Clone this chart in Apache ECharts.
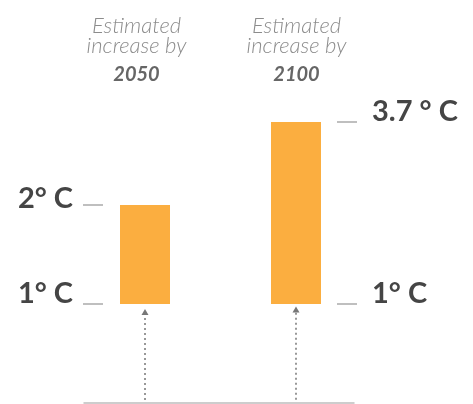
<!DOCTYPE html>
<html>
<head>
<meta charset="utf-8">
<script src="https://cdn.jsdelivr.net/npm/echarts@6.0.0/dist/echarts.min.js"></script>
<style>
html,body{margin:0;padding:0;background:#fff;}
#main{width:473px;height:404px;}
</style>
</head>
<body>
<div id="main"></div>
<script>
// ---- data ----
const categories = ['2050', '2100'];
const lowValues = [1, 1];
const highValues = [2, 3.7];
const leftTickLabels = {1: '1° C', 2: '2° C'};
const rightTickLabels = {1: '1° C', 3.7: '3.7 ° C'};

const chart = echarts.init(document.getElementById('main'), null, {renderer: 'canvas'});

const barColor = '#fbae40';
const arrowStyle = {color: '#777', width: 1.5, type: [2, 3]};

function only(i, v) {
  return categories.map((c, j) => (j === i ? v : '-'));
}

function makeStack(i, axisIdx, arrowFrom) {
  const low = lowValues[i], high = highValues[i];
  return [
    {
      type: 'bar', yAxisIndex: axisIdx, stack: 's' + i, barWidth: 50, barGap: '-100%',
      itemStyle: {color: 'transparent'}, silent: true,
      data: only(i, low)
    },
    {
      type: 'bar', yAxisIndex: axisIdx, stack: 's' + i, barWidth: 50, barGap: '-100%',
      itemStyle: {color: barColor},
      data: only(i, +(high - low).toFixed(3)),
      markLine: {
        silent: true,
        symbol: ['none', 'triangle'],
        symbolSize: [7, 6],
        lineStyle: arrowStyle,
        label: {show: false},
        data: [[{coord: [categories[i], arrowFrom]}, {coord: [categories[i], low - 0.08]}]]
      }
    }
  ];
}

const tokenBase = {fontFamily: 'Lato', fontWeight: 'bold', fontSize: 29, color: '#454545'};
const labelRich = {
  n: Object.assign({lineHeight: 20}, tokenBase),
  h: Object.assign({lineHeight: 12}, tokenBase)
};

const option = {
  animation: false,
  grid: [
    {left: 69.5, right: 101.5, top: 7, bottom: 1, containLabel: false},
    {left: 84, right: 119, top: 7, bottom: 1, containLabel: false}
  ],
  xAxis: [
    {
      type: 'category', data: categories, gridIndex: 0,
      axisLine: {show: false}, axisTick: {show: false}, axisLabel: {show: false}, splitLine: {show: false}
    },
    {
      type: 'value', gridIndex: 1, min: 0, max: 1,
      axisLine: {show: true, lineStyle: {color: '#bdbdbd', width: 1.5}},
      axisTick: {show: false}, axisLabel: {show: false}, splitLine: {show: false}
    }
  ],
  yAxis: [
    {
      type: 'value', gridIndex: 0, position: 'left', min: 0, max: 4, offset: -33.5,
      axisLine: {show: false}, splitLine: {show: false},
      axisTick: {show: true, length: 20, customValues: [lowValues[0], highValues[0]],
        lineStyle: {color: '#aaa', width: 1.5}},
      axisLabel: {show: true, margin: 30, customValues: [lowValues[0], highValues[0]],
        verticalAlign: 'bottom', rich: labelRich,
        formatter: v => (v === highValues[0] ? '{h|' : '{n|') + leftTickLabels[v] + '}'}
    },
    {
      type: 'value', gridIndex: 0, position: 'right', min: -0.469, max: 5.407, offset: -34.5,
      axisLine: {show: false}, splitLine: {show: false},
      axisTick: {show: true, length: 20, customValues: [lowValues[1], highValues[1]],
        lineStyle: {color: '#aaa', width: 1.5}},
      axisLabel: {show: true, margin: 35, customValues: [lowValues[1], highValues[1]],
        verticalAlign: 'bottom', rich: labelRich,
        formatter: v => '{n|' + rightTickLabels[v] + '}'}
    },
    {
      type: 'value', gridIndex: 1, show: false
    }
  ],
  graphic: [
    {x: 136.5, label: categories[0]},
    {x: 296.5, label: categories[1]}
  ].map(t => ({
    type: 'text', x: t.x, y: 16,
    style: {
      text: '{a|Estimated}\n{a|increase by}\n{b|' + t.label + '}',
      align: 'center', verticalAlign: 'top',
      rich: {
        a: {fontFamily: 'Lato', fontStyle: 'italic', fontWeight: 300, fontSize: 22, lineHeight: 20, fill: '#8c8c8c'},
        b: {fontFamily: 'Lato', fontStyle: 'italic', fontWeight: 'bold', fontSize: 20, lineHeight: 38, fill: '#666666'}
      }
    }
  })),
  series: [].concat(makeStack(0, 0, 0.03), makeStack(1, 1, -0.42))
};

chart.setOption(option);
</script>
</body>
</html>
